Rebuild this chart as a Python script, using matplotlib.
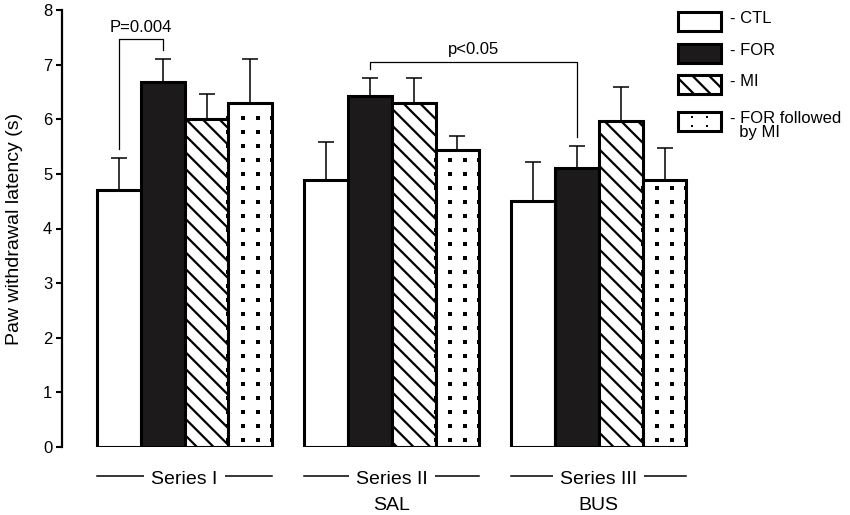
import numpy as np
import matplotlib
matplotlib.use('Agg')
import matplotlib.pyplot as plt
from matplotlib.patches import Rectangle

#--------------- Style ---------------------
plt.rcParams['font.family'] = ['Liberation Sans', 'DejaVu Sans']
plt.rcParams['hatch.linewidth'] = 1.6

#--------------- Data ----------------------
groups = ['Series I', 'Series II', 'Series III']
group_sub = ['', 'SAL', 'BUS']
treatments = ['CTL', 'FOR', 'MI', 'FOR followed\nby MI']

ctl_mean = [4.70, 4.89, 4.51]
ctl_err = [0.59, 0.70, 0.71]
for_mean = [6.68, 6.42, 5.11]
for_err = [0.42, 0.33, 0.40]
mi_mean = [6.00, 6.30, 5.97]
mi_err = [0.46, 0.46, 0.62]
formi_mean = [6.30, 5.43, 4.89]
formi_err = [0.80, 0.27, 0.58]

# significance brackets: (group, bar) pairs, label, bracket level
sig_pairs = [((0, 0), (0, 1)), ((1, 1), (2, 1))]
sig_text = ['P=0.004', 'p<0.05']
sig_level = [7.46, 7.05]

all_mean = [ctl_mean, for_mean, mi_mean, formi_mean]
all_err = [ctl_err, for_err, mi_err, formi_err]
faces = ['white', '#1c1a1b', 'white', 'white']
hatches = [None, None, '\\\\', None]
dotted = [False, False, False, True]

gap = 4.73  # distance between groups in bar widths


def add_dots(ax, x0, x1, y0, y1, dy, s=5):
    xs = np.linspace(x0, x1, 4)
    ys = np.arange(y0 + dy / 2, y1 - dy / 3, dy)
    gx, gy = np.meshgrid(xs, ys)
    ax.scatter(gx.ravel(), gy.ravel(), s=s, marker='s', color='black',
               linewidths=0, zorder=3, clip_on=False)


fig = plt.figure(figsize=(8.5, 5.15), dpi=100)
ax = fig.add_axes([62 / 850, 68 / 515, 638 / 850, 437 / 515])

xpos = {}
for i in range(len(treatments)):
    x = np.arange(len(groups)) * gap + i
    for g in range(len(groups)):
        xpos[(g, i)] = x[g]
    bars = ax.bar(x, all_mean[i], width=1, facecolor=faces[i], hatch=hatches[i],
                  edgecolor='black', linewidth=2.2, zorder=2)
    ax.errorbar(x, all_mean[i], yerr=[np.zeros(len(groups)), all_err[i]], fmt='none',
                ecolor='black', elinewidth=1.1, capsize=6, capthick=1.1, zorder=1)
    if dotted[i]:
        for b in bars:
            add_dots(ax, b.get_x(), b.get_x() + b.get_width(), 0, b.get_height(), 0.256)

# significance brackets
for (a, b), txt, lvl in zip(sig_pairs, sig_text, sig_level):
    xa, xb = xpos[a], xpos[b]
    ya = all_mean[a[1]][a[0]] + all_err[a[1]][a[0]] + 0.17
    yb = all_mean[b[1]][b[0]] + all_err[b[1]][b[0]] + 0.17
    ax.plot([xa, xa, xb, xb], [ya, lvl, lvl, yb], color='black', lw=0.9, zorder=4)
    ax.text((xa + xb) / 2, lvl + 0.14, txt, ha='center', va='baseline', fontsize=12)

# group labels under the axis
for g, (name, sub) in enumerate(zip(groups, group_sub)):
    x0 = g * gap - 0.5
    x1 = g * gap + 3.5
    ax.plot([x0, x1], [-0.53, -0.53], color='black', lw=1.1, clip_on=False)
    ax.text((x0 + x1) / 2, -0.678, name, ha='center', va='baseline', fontsize=14,
            bbox=dict(facecolor='white', edgecolor='none', pad=5))
    if sub:
        ax.text((x0 + x1) / 2, -1.154, sub, ha='center', va='baseline', fontsize=14)

ax.set_xlim(-1.30, 13.27)
ax.set_ylim(0, 8)
ax.set_yticks(range(0, 9))
ax.set_xticks([])
for side in ['top', 'right', 'bottom']:
    ax.spines[side].set_visible(False)
ax.spines['left'].set_linewidth(1.6)
ax.tick_params(axis='y', length=4, width=1.5, labelsize=12, pad=3)
ax.set_ylabel('Paw withdrawal latency (s)', fontsize=14)
ax.yaxis.set_label_coords(-0.061, 0.5)

# legend drawn in figure pixels
lax = fig.add_axes([0, 0, 1, 1])
lax.set_xlim(0, 850)
lax.set_ylim(515, 0)
lax.axis('off')
box_top = [12, 44, 75, 112]
for i, name in enumerate(treatments):
    r = Rectangle((678, box_top[i]), 43, 19, facecolor=faces[i], hatch=hatches[i],
                  edgecolor='black', linewidth=2.2)
    lax.add_patch(r)
    if dotted[i]:
        add_dots(lax, 678, 721, box_top[i], box_top[i] + 19, 9, s=4)
    label = '- ' + name.replace('\n', '\n  ')
    lax.text(730, box_top[i] - 1, label, ha='left', va='top', fontsize=12,
             linespacing=0.95)

fig.savefig('out.png', dpi=100)
